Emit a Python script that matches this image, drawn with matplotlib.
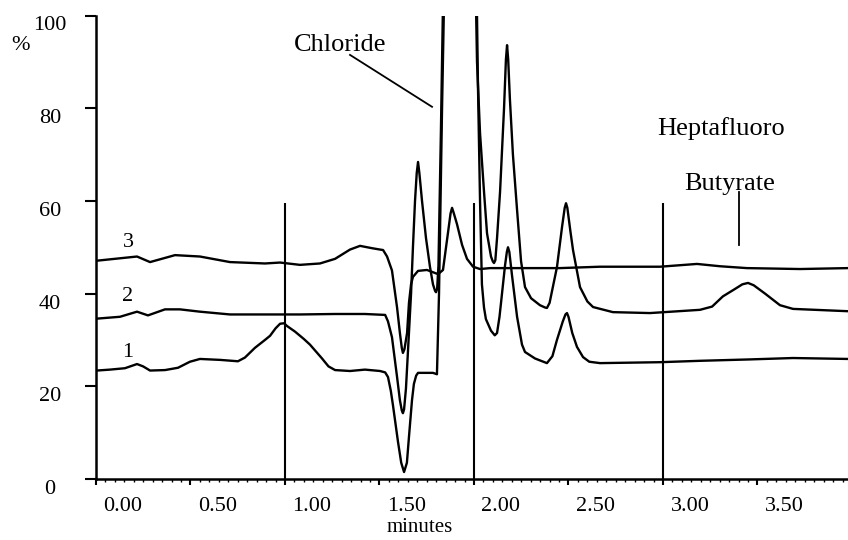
import matplotlib
matplotlib.use("Agg")
import matplotlib.pyplot as plt
import matplotlib.transforms as mtransforms
import numpy as np
from matplotlib.ticker import MultipleLocator

plt.rcParams['font.family'] = ['Liberation Serif', 'DejaVu Serif']

# --- data (minutes, % signal) ---
# trace 1 (bottom)
t1_min = [0.005, 0.074, 0.153, 0.217, 0.249, 0.286, 0.365, 0.434, 0.497, 0.550,
          0.656, 0.751, 0.788, 0.841, 0.894, 0.921, 0.950, 0.974, 0.995, 1.011,
          1.053, 1.100, 1.132, 1.196, 1.230, 1.265, 1.344, 1.423, 1.503, 1.530,
          1.545, 1.560, 1.571, 1.598, 1.615, 1.630, 1.645, 1.656, 1.672, 1.682,
          1.694, 1.704, 1.783, 1.804, 1.815, 1.831, 1.847, 1.921, 2.011, 2.021,
          2.032, 2.042, 2.053, 2.063, 2.090, 2.110, 2.122, 2.135, 2.143, 2.164,
          2.174, 2.180, 2.187, 2.201, 2.228, 2.254, 2.270, 2.323, 2.386, 2.415,
          2.439, 2.470, 2.484, 2.492, 2.500, 2.520, 2.545, 2.577, 2.610, 2.667,
          2.984, 3.196, 3.460, 3.688, 3.979]
t1_pct = [23.4, 23.6, 23.9, 24.8, 24.3, 23.4, 23.5, 24.0, 25.3, 25.9,
          25.7, 25.4, 26.2, 28.3, 30.0, 30.9, 32.5, 33.5, 33.6, 33.0,
          31.8, 30.2, 29.0, 26.0, 24.3, 23.5, 23.3, 23.6, 23.3, 23.0,
          22.0, 19.0, 16.0, 8.0, 3.5, 1.5, 3.5, 9.1, 17.0, 20.5,
          22.3, 22.9, 22.9, 22.6, 40.0, 80.0, 115.0, 220.0, 115.0, 85.0,
          60.0, 42.0, 37.0, 34.5, 32.0, 31.0, 31.5, 35.0, 38.0, 46.0,
          49.0, 50.0, 49.0, 44.0, 35.0, 29.0, 27.4, 26.0, 25.0, 26.5,
          30.0, 34.0, 35.5, 35.8, 35.0, 31.5, 28.5, 26.3, 25.3, 25.0,
          25.2, 25.5, 25.8, 26.1, 25.9]

# trace 2 (middle)
t2_min = [0.005, 0.127, 0.217, 0.275, 0.365, 0.444, 0.550, 0.709, 0.868, 1.079,
          1.265, 1.423, 1.530, 1.545, 1.566, 1.593, 1.608, 1.618, 1.624, 1.630,
          1.640, 1.651, 1.667, 1.677, 1.688, 1.697, 1.704, 1.711, 1.725, 1.746,
          1.767, 1.783, 1.794, 1.799, 1.805, 1.812, 1.825, 1.841, 1.921, 2.005,
          2.016, 2.032, 2.053, 2.069, 2.090, 2.100, 2.106, 2.113, 2.122, 2.138,
          2.159, 2.169, 2.175, 2.181, 2.190, 2.206, 2.228, 2.249, 2.270, 2.302,
          2.349, 2.376, 2.386, 2.400, 2.439, 2.466, 2.480, 2.487, 2.494, 2.510,
          2.524, 2.561, 2.600, 2.630, 2.735, 2.931, 3.196, 3.260, 3.317, 3.381,
          3.420, 3.450, 3.480, 3.540, 3.619, 3.688, 3.979]
t2_pct = [34.6, 35.0, 36.1, 35.3, 36.6, 36.6, 36.1, 35.5, 35.5, 35.5,
          35.6, 35.6, 35.4, 34.0, 30.6, 22.0, 17.0, 14.8, 14.2, 15.0,
          19.5, 27.8, 40.0, 50.0, 60.0, 66.0, 68.4, 66.0, 60.0, 52.0,
          45.8, 42.0, 40.6, 40.3, 41.0, 46.0, 75.0, 115.0, 230.0, 115.0,
          90.0, 74.6, 62.0, 53.0, 48.0, 46.9, 46.6, 47.2, 52.0, 62.0,
          80.0, 90.5, 93.6, 90.5, 82.0, 70.0, 58.0, 47.0, 41.4, 39.0,
          37.5, 37.0, 36.9, 38.0, 45.7, 54.4, 58.5, 59.5, 58.5, 53.5,
          49.4, 41.4, 38.3, 37.1, 36.0, 35.8, 36.5, 37.2, 39.4, 41.0,
          42.0, 42.3, 41.8, 40.0, 37.5, 36.7, 36.2]

# trace 3 (top)
t3_min = [0.005, 0.217, 0.286, 0.418, 0.550, 0.709, 0.894, 0.974, 1.079, 1.185,
          1.265, 1.344, 1.397, 1.460, 1.503, 1.519, 1.540, 1.566, 1.593, 1.608,
          1.618, 1.624, 1.632, 1.646, 1.656, 1.667, 1.677, 1.704, 1.751, 1.810,
          1.836, 1.862, 1.876, 1.884, 1.892, 1.910, 1.937, 1.963, 1.995, 2.032,
          2.085, 2.243, 2.455, 2.667, 2.984, 3.180, 3.302, 3.444, 3.725, 3.979]
t3_pct = [47.1, 48.0, 46.8, 48.3, 48.0, 46.8, 46.5, 46.7, 46.2, 46.5,
          47.5, 49.5, 50.3, 49.8, 49.5, 49.4, 48.0, 45.0, 37.0, 31.5,
          28.3, 27.2, 28.0, 31.5, 38.0, 42.0, 43.6, 44.9, 45.1, 44.2,
          45.1, 53.0, 57.3, 58.5, 57.5, 55.0, 50.5, 47.5, 45.8, 45.3,
          45.5, 45.5, 45.5, 45.8, 45.8, 46.4, 45.9, 45.5, 45.3, 45.5]

x_ticks = [0.0, 0.5, 1.0, 1.5, 2.0, 2.5, 3.0, 3.5]
x_ticklabels = ["0.00", "0.50", "1.00", "1.50", "2.00", "2.50", "3.00", "3.50"]
y_ticks = [0, 20, 40, 60, 80, 100]
marker_lines = [1.0, 2.0, 3.0]
marker_top = 59.5

fig = plt.figure(figsize=(8.48, 5.4), dpi=100)
ax = fig.add_axes([96 / 848, 61 / 540, 752 / 848, 463.5 / 540])

for xs, ys in [(t1_min, t1_pct), (t2_min, t2_pct), (t3_min, t3_pct)]:
    ax.plot(xs, ys, color='black', linewidth=1.7, solid_joinstyle='round')

ax.vlines(marker_lines, 0, marker_top, color='black', linewidth=1.5)

# trace numbers
ax.text(0.169, 51.1, "3", fontsize=16, ha='center', va='center')
ax.text(0.169, 39.3, "2", fontsize=16, ha='center', va='center')
ax.text(0.169, 27.4, "1", fontsize=16, ha='center', va='center')

# peak labels
ax.text(1.291, 93.6, "Chloride", fontsize=19, ha='center', va='center')
ax.plot([1.344, 1.778], [91.5, 80.3], color='black', linewidth=1.3)
ax.text(3.307, 75.7, "Heptafluoro", fontsize=19, ha='center', va='center')
ax.text(3.354, 63.6, "Butyrate", fontsize=19, ha='center', va='center')
ax.plot([3.402, 3.402], [61.9, 50.5], color='black', linewidth=1.3)

ax.set_xlim(0, 3.979)
ax.set_ylim(0, 100)

for s in ['top', 'right']:
    ax.spines[s].set_visible(False)
for s in ['left', 'bottom']:
    ax.spines[s].set_linewidth(1.8)

ax.set_xticks(x_ticks)
ax.set_xticklabels(x_ticklabels)
ax.xaxis.set_minor_locator(MultipleLocator(0.05))
ax.set_yticks(y_ticks)
ax.set_yticklabels([str(v) for v in y_ticks])

ax.tick_params(axis='x', which='major', direction='out', length=4, width=1.5,
               pad=9, labelsize=16)
ax.tick_params(axis='x', which='minor', direction='out', length=2, width=1.0)
ax.tick_params(axis='y', which='major', direction='out', length=8, width=1.5,
               pad=25, labelsize=16)

# labels sit off their ticks in the original
dx = mtransforms.ScaledTranslation(27 / 100, 0, fig.dpi_scale_trans)
for lab in ax.get_xticklabels():
    lab.set_transform(lab.get_transform() + dx)
dy = mtransforms.ScaledTranslation(0, -8 / 100, fig.dpi_scale_trans)
for lab in ax.get_yticklabels():
    lab.set_transform(lab.get_transform() + dy)
    lab.set_horizontalalignment('center')

ax.set_xlabel("minutes", fontsize=15)
ax.xaxis.set_label_coords((420 - 96) / 752, -0.085)

fig.text(20 / 848, 1 - 45 / 540, "%", fontsize=16, ha='center', va='center')

fig.savefig("out.png", dpi=100, facecolor='white')
